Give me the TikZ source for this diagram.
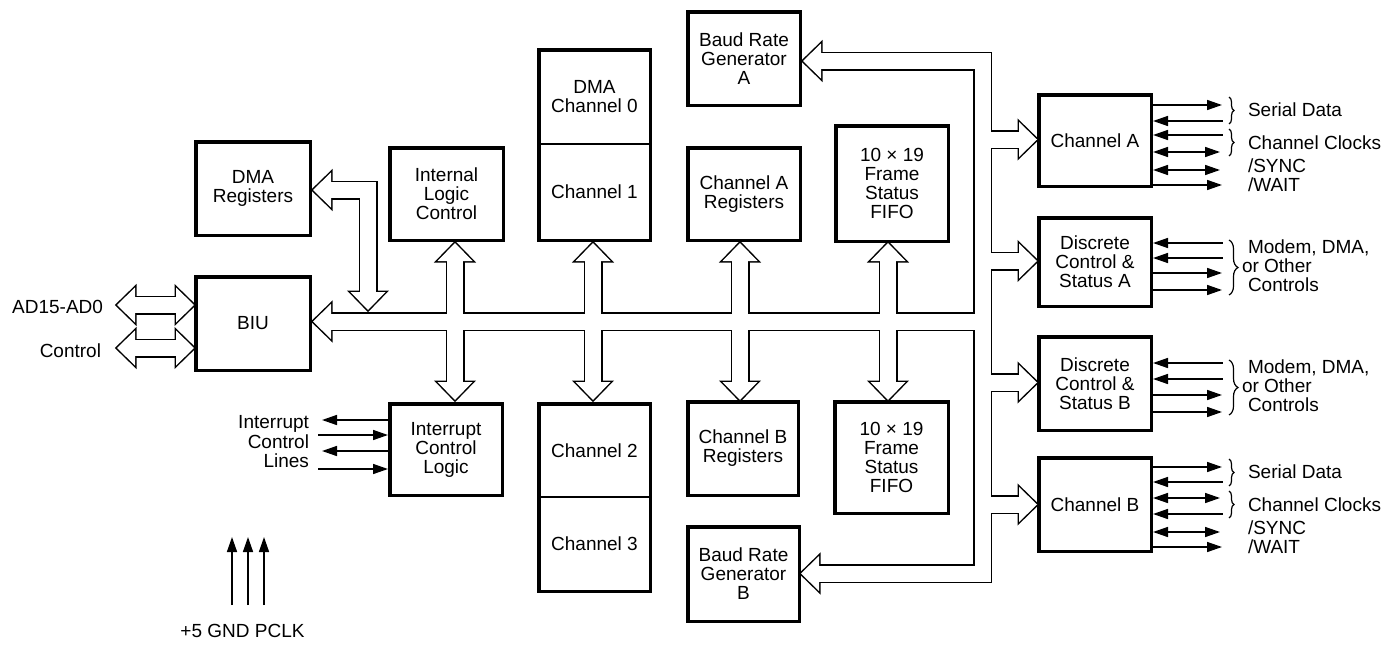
\documentclass[tikz,border=0pt]{standalone}
\usepackage{fontspec}
\setmainfont{Liberation Sans}
\usetikzlibrary{arrows.meta,decorations.pathreplacing}
\newcommand{\diagfont}{\fontsize{19}{19}\selectfont}
\begin{document}
\begin{tikzpicture}[x=1pt,y=-1pt,
  bx/.style={draw, line width=3.5pt, align=center, inner sep=0pt, font=\diagfont},
  cell/.style={align=center, inner sep=0pt, outer sep=0pt, font=\diagfont, minimum width=111.5pt},
  lbl/.style={inner sep=0pt, outer sep=0pt, font=\diagfont},
  sig/.style={line width=1.5pt},
  >={Triangle[length=15pt,width=10pt]},
  bandk/.style={line width=19pt, line join=miter, draw=black},
  bandw/.style={line width=16pt, line join=miter, draw=white},
  brc/.style={decorate, decoration={brace, amplitude=#1}, line width=1.2pt},
  hk/.pic={\draw[line width=3pt, line join=miter] (-18,-17.5) -- (0,0) -- (-18,17.5) -- cycle;},
  hw/.pic={\fill[white] (-18,-17.5) -- (0,0) -- (-18,17.5) -- cycle;}
]
\fill[white] (0,0) rectangle (1398,645);
\useasboundingbox (0,0) rectangle (1398,645);

% ---------------- boxes ----------------
\node[bx, minimum width=114.5pt, minimum height=93.5pt] (dmareg) at (253,188.5) {DMA\\Registers};
\node[bx, minimum width=114.5pt, minimum height=93.5pt] (biu) at (253,323.5) {BIU};
\node[bx, minimum width=113.5pt, minimum height=92.5pt] (ilc) at (446.5,194) {Internal\\Logic\\Control};
\node[bx, minimum width=112.5pt, minimum height=91.5pt] (icl) at (446,449.5) {Interrupt\\Control\\Logic};

\node[cell, minimum height=94.25pt] (dma0) at (594.5,96.875) {DMA\\Channel 0};
\node[cell, minimum height=96.25pt] (ch1) at (594.5,192.125) {Channel 1};
\draw[line width=3.5pt] (dma0.north west) rectangle (ch1.south east);
\draw[line width=2.5pt] (dma0.south west) -- (dma0.south east);

\node[cell, minimum height=93.25pt] (ch2) at (594.5,450.375) {Channel 2};
\node[cell, minimum height=94.25pt] (ch3) at (594.5,544.125) {Channel 3};
\draw[line width=3.5pt] (ch2.north west) rectangle (ch3.south east);
\draw[line width=2.5pt] (ch2.south west) -- (ch2.south east);

\node[bx, minimum width=112.5pt, minimum height=93.5pt] (baudA) at (744,58.5) {Baud Rate\\Generator\\A};
\node[bx, minimum width=112.5pt, minimum height=92.5pt] (chAreg) at (744,194) {Channel A\\Registers};
\node[bx, minimum width=112.5pt, minimum height=115.5pt] (fifoA) at (892,183.5) {10 × 19\\Frame\\Status\\FIFO};
\node[bx, minimum width=110.5pt, minimum height=93.5pt] (chBreg) at (743,448.5) {Channel B\\Registers};
\node[bx, minimum width=113.5pt, minimum height=111.5pt] (fifoB) at (891.5,457.5) {10 × 19\\Frame\\Status\\FIFO};
\node[bx, minimum width=111.5pt, minimum height=94.5pt] (baudB) at (743.5,574) {Baud Rate\\Generator\\B};

\node[bx, minimum width=112.5pt, minimum height=91.5pt] (chA) at (1095,140.5) {Channel A};
\node[bx, minimum width=112.5pt, minimum height=88.5pt] (discA) at (1095,262) {Discrete\\Control \&\\Status A};
\node[bx, minimum width=112.5pt, minimum height=93.5pt] (discB) at (1095,383.5) {Discrete\\Control \&\\Status B};
\node[bx, minimum width=112.5pt, minimum height=93.5pt] (chB) at (1095,504.5) {Channel B};

% ---------------- hollow bus: black layer ----------------
\draw[bandk] (329,190) -- (368,190) -- (368,294);
\draw[bandk] (329,321.5) -- (982.5,321.5);
\draw[bandk] (133,305) -- (178,305);
\draw[bandk] (133,348) -- (178,348);
\foreach \x in {455,593,740,888} \draw[bandk] (\x,259) -- (\x,384);
\draw[bandk] (819,61) -- (982.5,61) -- (982.5,573.5) -- (817,573.5);
\foreach \y in {139.5,261,382.5,504.5} \draw[bandk] (982.5,\y) -- (1021,\y);
\foreach \x/\y/\a in {313/190/180, 368/310/270, 313/321.5/180, 117/305/180, 194/305/0,
  117/348/180, 194/348/0, 455/243/90, 455/400/270, 593/243/90, 593/400/270,
  740/243/90, 740/400/270, 888/243/90, 888/400/270, 803/61/180, 801/573.5/180,
  1037/139.5/0, 1037/261/0, 1037/382.5/0, 1037/504.5/0}
  \pic[rotate=\a] at (\x,\y) {hk};

% ---------------- hollow bus: white layer ----------------
\draw[bandw] (329,190) -- (368,190) -- (368,294);
\draw[bandw] (329,321.5) -- (982.5,321.5);
\draw[bandw] (133,305) -- (178,305);
\draw[bandw] (133,348) -- (178,348);
\foreach \x in {455,593,740,888} \draw[bandw] (\x,259) -- (\x,384);
\draw[bandw] (819,61) -- (982.5,61) -- (982.5,573.5) -- (817,573.5);
\foreach \y in {139.5,261,382.5,504.5} \draw[bandw] (982.5,\y) -- (1021,\y);
\foreach \x/\y/\a in {313/190/180, 368/310/270, 313/321.5/180, 117/305/180, 194/305/0,
  117/348/180, 194/348/0, 455/243/90, 455/400/270, 593/243/90, 593/400/270,
  740/243/90, 740/400/270, 888/243/90, 888/400/270, 803/61/180, 801/573.5/180,
  1037/139.5/0, 1037/261/0, 1037/382.5/0, 1037/504.5/0}
  \pic[rotate=\a] at (\x,\y) {hw};

% ---------------- left labels ----------------
\node[lbl, anchor=base east] (adlbl) at (103,313) {AD15-AD0};
\node[lbl, anchor=base east] (ctllbl) at (101,357) {Control};

% ---------------- interrupt lines ----------------
\node[lbl, anchor=base east] (il1) at (309,428) {Interrupt};
\node[lbl, anchor=base east] (il2) at (309,448) {Control};
\node[lbl, anchor=base east] (il3) at (309,467) {Lines};
\coordinate (iend) at (318,0);
\draw[sig,<-] (322,420) -- (icl.west |- 0,420);
\draw[sig,->] (iend |- 0,435) -- (icl.west |- 0,435);
\draw[sig,<-] (322,451) -- (icl.west |- 0,451);
\draw[sig,->] (iend |- 0,469) -- (icl.west |- 0,469);

% ---------------- power pins ----------------
\node[lbl, anchor=base] (pwr) at (242.5,637) {+5 GND PCLK};
\foreach \x in {232,248,264} \draw[sig,->] (\x,605) -- (\x,537);

% ---------------- Channel A signals ----------------
\draw[sig,->] (chA.east |- 0,105) -- (1222,105);
\draw[sig,<-] (chA.east |- 0,121) -- (1223,121);
\draw[sig,<-] (chA.east |- 0,135) -- (1223,135);
\draw[sig,<->] (chA.east |- 0,152) -- (1220,152);
\draw[sig,<->] (chA.east |- 0,170) -- (1220,170);
\draw[sig,->] (chA.east |- 0,185) -- (1222,185);
\draw[brc=5pt] (1229,97) -- (1229,124);
\draw[brc=5pt] (1229,129) -- (1229,156);
\node[lbl, anchor=base west] (sdA) at (1248,116) {Serial Data};
\node[lbl, anchor=base west] (ccA) at (1248,149) {Channel Clocks};
\node[lbl, anchor=base west] (syA) at (1248,172) {/SYNC};
\node[lbl, anchor=base west] (waA) at (1248,191) {/WAIT};

% ---------------- Discrete A signals ----------------
\draw[sig,<-] (discA.east |- 0,243) -- (1223,243);
\draw[sig,<-] (discA.east |- 0,258) -- (1223,258);
\draw[sig,->] (discA.east |- 0,273) -- (1222,273);
\draw[sig,->] (discA.east |- 0,290) -- (1222,290);
\draw[brc=9pt] (1229,240) -- (1229,295);
\node[lbl, anchor=base west] (mdA) at (1248,253) {Modem, DMA,};
\node[lbl, anchor=base west] (orA) at (1242,272) {or Other};
\node[lbl, anchor=base west] (coA) at (1248,291) {Controls};

% ---------------- Discrete B signals ----------------
\draw[sig,<-] (discB.east |- 0,363) -- (1223,363);
\draw[sig,<-] (discB.east |- 0,379) -- (1223,379);
\draw[sig,->] (discB.east |- 0,395) -- (1222,395);
\draw[sig,->] (discB.east |- 0,412) -- (1222,412);
\draw[brc=9pt] (1229,360) -- (1229,415);
\node[lbl, anchor=base west] (mdB) at (1248,373) {Modem, DMA,};
\node[lbl, anchor=base west] (orB) at (1242,392) {or Other};
\node[lbl, anchor=base west] (coB) at (1248,411) {Controls};

% ---------------- Channel B signals ----------------
\draw[sig,->] (chB.east |- 0,467) -- (1222,467);
\draw[sig,<-] (chB.east |- 0,482) -- (1223,482);
\draw[sig,<->] (chB.east |- 0,498) -- (1220,498);
\draw[sig,<-] (chB.east |- 0,514) -- (1223,514);
\draw[sig,<->] (chB.east |- 0,532) -- (1220,532);
\draw[sig,->] (chB.east |- 0,547) -- (1222,547);
\draw[brc=5pt] (1229,459) -- (1229,486);
\draw[brc=5pt] (1229,491) -- (1229,518);
\node[lbl, anchor=base west] (sdB) at (1248,478) {Serial Data};
\node[lbl, anchor=base west] (ccB) at (1248,511) {Channel Clocks};
\node[lbl, anchor=base west] (syB) at (1248,534) {/SYNC};
\node[lbl, anchor=base west] (waB) at (1248,553) {/WAIT};
\end{tikzpicture}
\end{document}
